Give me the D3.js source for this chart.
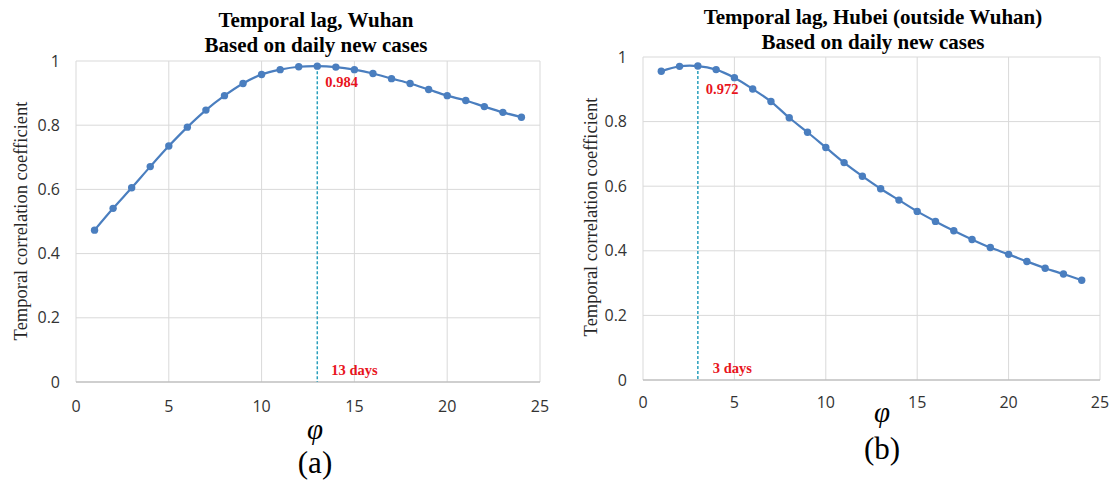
<!DOCTYPE html>
<html>
<head>
<meta charset="utf-8">
<script src="https://cdn.jsdelivr.net/npm/d3@7"></script>
<style>
  body { margin: 0; background: #fff; }
  svg { display: block; }
  .tick-label { font-family: "Open Sans", "Liberation Sans", sans-serif; font-size: 16px; fill: #333; }
  .title { font-family: "Liberation Serif", "Times New Roman", serif; font-weight: bold; font-size: 21px; fill: #000; }
  .ylabel { font-family: "Liberation Serif", "Times New Roman", serif; font-size: 18.5px; fill: #262626; }
  .note { font-family: "Liberation Serif", "Times New Roman", serif; font-weight: bold; font-size: 14.5px; fill: #e8141c; }
  .phi { font-family: "Liberation Serif", "Times New Roman", serif; font-style: italic; font-size: 29px; fill: #000; }
  .panel { font-family: "Liberation Serif", "Times New Roman", serif; font-size: 31px; fill: #000; }
</style>
</head>
<body>
<svg id="chart" width="1115" height="483"></svg>
<script>
// lag in days
var lags = [1,2,3,4,5,6,7,8,9,10,11,12,13,14,15,16,17,18,19,20,21,22,23,24];

// correlation
var wuhan = [0.473,0.541,0.605,0.671,0.735,0.794,0.847,0.892,0.930,0.958,0.973,0.982,
             0.984,0.981,0.973,0.961,0.945,0.930,0.911,0.892,0.877,0.858,0.840,0.825];
var hubei = [0.956,0.971,0.972,0.961,0.936,0.901,0.862,0.812,0.767,0.720,0.673,0.631,
             0.592,0.557,0.522,0.491,0.462,0.435,0.410,0.389,0.367,0.346,0.328,0.309];

var xTicks = [0,5,10,15,20,25];
var yTicks = [0,0.2,0.4,0.6,0.8,1];
var yTickLabels = ["0","0.2","0.4","0.6","0.8","1"];

var titlesA = ["Temporal lag, Wuhan","Based on daily new cases"];
var titlesB = ["Temporal lag, Hubei (outside Wuhan)","Based on daily new cases"];
var peaks = [{lag: 13, value: 0.984, days: "13 days"}, {lag: 3, value: 0.972, days: "3 days"}];
var panelNames = ["(a)","(b)"];

var svg = d3.select("#chart");
svg.append("rect").attr("width",1115).attr("height",483).attr("fill","#fff");

function drawPanel(p) {
  var x = d3.scaleLinear().domain([0,25]).range([p.left,p.right]);
  var y = d3.scaleLinear().domain([0,1]).range([p.bottom,p.top]);
  var g = svg.append("g");

  // grid
  g.selectAll(".vgrid").data(xTicks).enter().append("line")
      .attr("x1", function(d){ return x(d); }).attr("x2", function(d){ return x(d); })
      .attr("y1", p.top).attr("y2", p.bottom)
      .attr("stroke", "#d9d9d9").attr("stroke-width", 1);
  g.selectAll(".hgrid").data(yTicks.slice(1)).enter().append("line")
      .attr("x1", p.left).attr("x2", p.right)
      .attr("y1", function(d){ return y(d); }).attr("y2", function(d){ return y(d); })
      .attr("stroke", "#d9d9d9").attr("stroke-width", 1);
  g.append("line")
      .attr("x1", p.left).attr("x2", p.right).attr("y1", p.bottom).attr("y2", p.bottom)
      .attr("stroke", "#bfbfbf").attr("stroke-width", 1.3);

  // tick labels
  g.selectAll(".xt").data(xTicks).enter().append("text")
      .attr("class","tick-label").attr("text-anchor","middle")
      .attr("x", function(d){ return x(d); }).attr("y", p.bottom + p.xLabelGap)
      .attr("dy","0.35em").text(function(d){ return d; });
  g.selectAll(".yt").data(yTicks).enter().append("text")
      .attr("class","tick-label").attr("text-anchor","end")
      .attr("x", p.left - 16).attr("y", function(d){ return y(d); })
      .attr("dy","0.35em").text(function(d,i){ return yTickLabels[i]; });

  // titles
  g.selectAll(".title").data(p.titles).enter().append("text")
      .attr("class","title").attr("text-anchor","middle")
      .attr("x", p.titleX).attr("y", function(d,i){ return p.titleY + i*25; })
      .attr("dy","0.35em").text(function(d){ return d; });

  g.append("text").attr("class","ylabel").attr("text-anchor","middle")
      .attr("transform","translate(" + p.yLabelX + "," + p.yLabelY + ") rotate(-90)")
      .attr("dy","0.35em").text("Temporal correlation coefficient");

  // peak marker
  g.append("line")
      .attr("x1", x(p.peak.lag)).attr("x2", x(p.peak.lag))
      .attr("y1", y(p.peak.value)).attr("y2", p.bottom)
      .attr("stroke","#2a9fbc").attr("stroke-width",1.5).attr("stroke-dasharray","3,2");

  // series
  var line = d3.line()
      .x(function(d,i){ return x(lags[i]); })
      .y(function(d){ return y(d); })
      .curve(d3.curveCatmullRom.alpha(0.5));
  g.append("path").datum(p.values)
      .attr("d", line).attr("fill","none")
      .attr("stroke","#4a7ebf").attr("stroke-width",2.2);
  g.selectAll(".pt").data(p.values).enter().append("circle")
      .attr("cx", function(d,i){ return x(lags[i]); })
      .attr("cy", function(d){ return y(d); })
      .attr("r", 3.7).attr("fill","#4a7ebf");

  g.append("text").attr("class","note")
      .attr("x", x(p.peak.lag) + 8).attr("y", y(p.peak.value) + p.valueOffset)
      .attr("dy","0.35em").text(p.peak.value.toFixed(3));
  g.append("text").attr("class","note")
      .attr("x", x(p.peak.lag) + p.daysOffset).attr("y", p.bottom - 12)
      .attr("dy","0.35em").text(p.peak.days);

  g.append("text").attr("class","phi").attr("text-anchor","middle")
      .attr("x", p.phiX).attr("y", p.phiY).attr("dy","0.3em").text("φ");
  g.append("text").attr("class","panel").attr("text-anchor","middle")
      .attr("x", p.phiX).attr("y", p.nameY).attr("dy","0.35em").text(p.name);
}

drawPanel({
  left: 76, right: 540, top: 61, bottom: 382, xLabelGap: 24,
  values: wuhan, titles: titlesA, titleX: 316, titleY: 20,
  yLabelX: 21, yLabelY: 221, peak: peaks[0], valueOffset: 16, daysOffset: 14,
  phiX: 315, phiY: 430, nameY: 462, name: panelNames[0]
});
drawPanel({
  left: 643, right: 1100, top: 57, bottom: 380, xLabelGap: 22,
  values: hubei, titles: titlesB, titleX: 873, titleY: 17,
  yLabelX: 591, yLabelY: 217, peak: peaks[1], valueOffset: 23, daysOffset: 15,
  phiX: 882, phiY: 413, nameY: 448, name: panelNames[1]
});
</script>
</body>
</html>
